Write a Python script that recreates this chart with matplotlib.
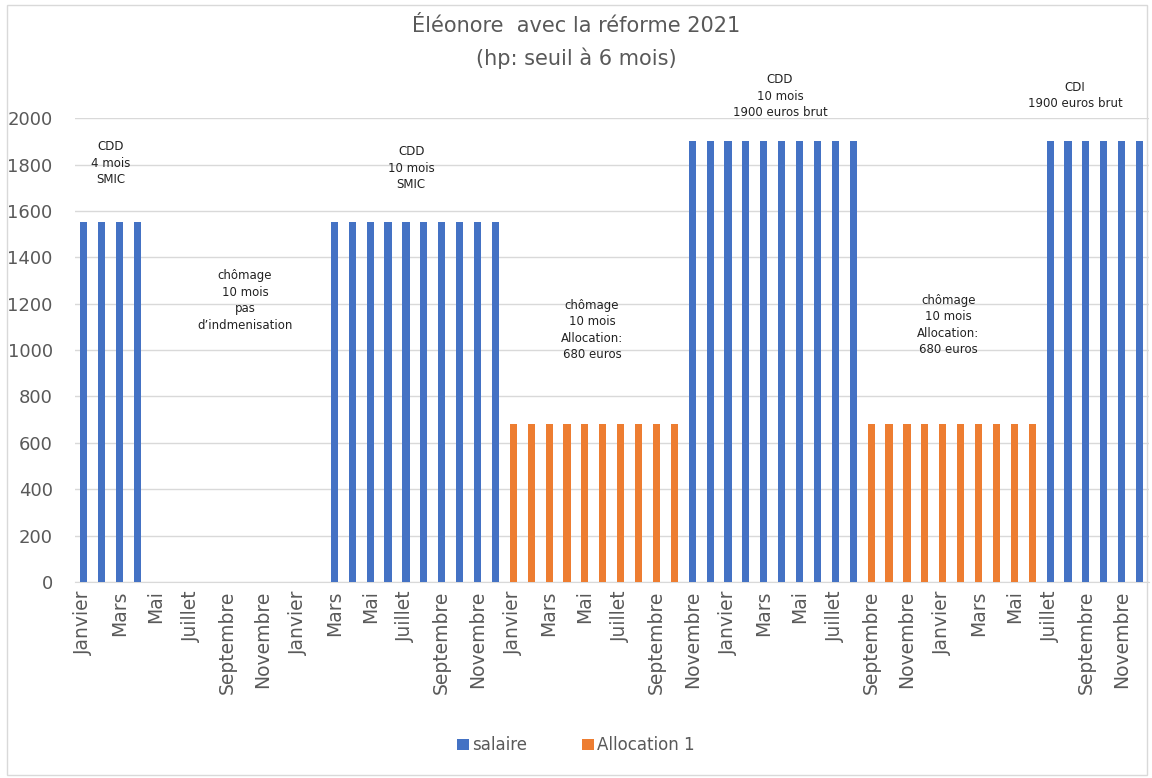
import matplotlib.pyplot as plt
from matplotlib.patches import Rectangle
import numpy as np

# Months over 5 years (60 months)
mois = ['Janvier', 'Février', 'Mars', 'Avril', 'Mai', 'Juin',
        'Juillet', 'Août', 'Septembre', 'Octobre', 'Novembre', 'Décembre'] * 5

salaire = [1554, 1554, 1554, 1554, 0, 0, 0, 0, 0, 0, 0, 0,
           0, 0, 1554, 1554, 1554, 1554, 1554, 1554, 1554, 1554, 1554, 1554,
           0, 0, 0, 0, 0, 0, 0, 0, 0, 0, 1900, 1900,
           1900, 1900, 1900, 1900, 1900, 1900, 1900, 1900, 0, 0, 0, 0,
           0, 0, 0, 0, 0, 0, 1900, 1900, 1900, 1900, 1900, 1900]

allocation = [0, 0, 0, 0, 0, 0, 0, 0, 0, 0, 0, 0,
              0, 0, 0, 0, 0, 0, 0, 0, 0, 0, 0, 0,
              680, 680, 680, 680, 680, 680, 680, 680, 680, 680, 0, 0,
              0, 0, 0, 0, 0, 0, 0, 0, 680, 680, 680, 680,
              680, 680, 680, 680, 680, 680, 0, 0, 0, 0, 0, 0]

# Period annotations: (x position in months, y value, text)
annot_x = [1.5, 9.0, 18.3, 28.4, 38.9, 48.3, 55.4]
annot_y = [1806, 1215, 1784, 1086, 2095, 1108, 2099]
annot_txt = ['CDD\n4 mois\nSMIC',
             'chômage\n10 mois\npas\nd\u2019indmenisation',
             'CDD\n10 mois\nSMIC',
             'chômage\n10 mois\nAllocation:\n680 euros',
             'CDD\n10 mois\n1900 euros brut',
             'chômage\n10 mois\nAllocation:\n680 euros',
             'CDI\n1900 euros brut']

BLUE = '#4472C4'
ORANGE = '#ED7D31'
GREY = '#595959'

fig = plt.figure(figsize=(11.52, 7.78), dpi=100)
ax = fig.add_axes([0.065, 0.252, 0.932, 0.596])

x = np.arange(len(mois))
ax.bar(x, salaire, width=0.4, color=BLUE, label='salaire', zorder=3)
ax.bar(x, allocation, width=0.4, color=ORANGE, label='Allocation 1', zorder=3)

ax.set_xlim(-0.5, len(mois) - 0.5)
ax.set_ylim(0, 2000)
ax.set_yticks(range(0, 2001, 200))
ax.tick_params(axis='y', length=0, labelsize=13, labelcolor=GREY, pad=16)
ax.set_xticks(x[::2])
ax.set_xticklabels(mois[::2], rotation=90, fontsize=13.5, color=GREY)
ax.tick_params(axis='x', length=0, pad=6)
ax.grid(axis='y', color='#d9d9d9', linewidth=1, zorder=0)
for s in ['top', 'right', 'left']:
    ax.spines[s].set_visible(False)
ax.spines['bottom'].set_color('#d9d9d9')

for xi, yi, t in zip(annot_x, annot_y, annot_txt):
    ax.text(xi, yi, t, ha='center', va='center', fontsize=8.5,
            color='#222222', linespacing=1.35, clip_on=False, zorder=4)

fig.text(0.5, 0.967, 'Éléonore  avec la réforme 2021', ha='center', va='center',
         fontsize=15, color=GREY)
fig.text(0.5, 0.925, '(hp: seuil à 6 mois)', ha='center', va='center',
         fontsize=15, color=GREY)

fig.legend(loc='center', bbox_to_anchor=(0.5, 0.042), ncol=2, frameon=False,
           fontsize=12, handlelength=0.7, handleheight=0.7, handletextpad=0.2,
           columnspacing=3.3, labelcolor=GREY)

fig.patches.append(Rectangle((0.006, 0.004), 0.99, 0.99, transform=fig.transFigure,
                             fill=False, edgecolor='#d9d9d9', linewidth=1))

plt.savefig('out.png', dpi=100)
